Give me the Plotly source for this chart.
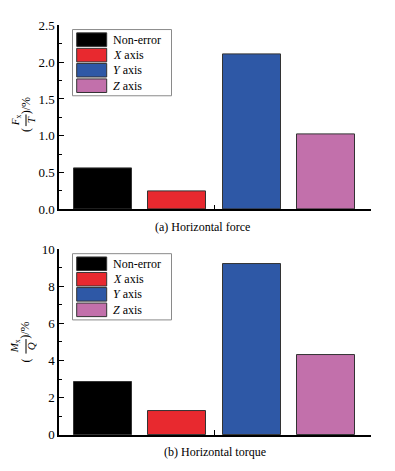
import plotly.graph_objects as go

# ---------------- data ----------------
categories = ["Non-error", "X axis", "Y axis", "Z axis"]
legend_labels = ["Non-error", "<i>X</i> axis", "<i>Y</i> axis", "<i>Z</i> axis"]
force_values = [0.55, 0.25, 2.10, 1.02]
torque_values = [2.83, 1.30, 9.18, 4.31]
bar_colors = ["#000000", "#e8292f", "#2e58a6", "#c270ab"]
caption_a = "(a) Horizontal force"
caption_b = "(b) Horizontal torque"

W, H = 395, 471
FONT = "Liberation Serif, Times New Roman, serif"


def px(x):
    return x / W


def py(y):
    return 1 - y / H


xpos = [1, 2, 3, 4]

fig = go.Figure()
fig.add_trace(go.Bar(x=xpos, y=force_values, width=0.78,
                     marker=dict(color=bar_colors, line=dict(color="#333333", width=1)),
                     xaxis="x", yaxis="y", showlegend=False,
                     hovertext=categories))
fig.add_trace(go.Bar(x=xpos, y=torque_values, width=0.78,
                     marker=dict(color=bar_colors, line=dict(color="#333333", width=1)),
                     xaxis="x2", yaxis="y2", showlegend=False,
                     hovertext=categories))

xr = [0.41, 4.6]
xcommon = dict(range=xr, showline=True, linecolor="black", linewidth=1.5,
               tickvals=[2.5, 4.595], showticklabels=False, ticks="inside",
               ticklen=5, tickcolor="black", showgrid=False, zeroline=False,
               domain=[px(59), px(371)], fixedrange=True)
ycommon = dict(showline=True, linecolor="black", linewidth=1.5, ticks="inside",
               ticklen=5, tickcolor="black", showgrid=False, zeroline=False,
               tickfont=dict(family=FONT, size=13, color="black"),
               fixedrange=True)

fig.update_layout(
    width=W, height=H,
    margin=dict(l=0, r=0, t=0, b=0),
    paper_bgcolor="white", plot_bgcolor="white",
    bargap=0,
    xaxis=dict(**xcommon, anchor="y"),
    yaxis=dict(**ycommon, range=[0, 2.5], dtick=0.5, tickformat=".1f",
               minor=dict(dtick=0.25, ticks="inside", ticklen=3, tickcolor="black"),
               domain=[py(209), py(19)], anchor="x"),
    xaxis2=dict(**xcommon, anchor="y2"),
    yaxis2=dict(**ycommon, range=[0, 10], dtick=2,
                minor=dict(dtick=1, ticks="inside", ticklen=3, tickcolor="black"),
                domain=[py(442), py(250)], anchor="x2"),
)

shapes = []
annotations = []


def add_legend(offset):
    shapes.append(dict(type="rect", xref="paper", yref="paper",
                       x0=px(72.5), x1=px(171.5), y0=py(23.3 + offset), y1=py(91.7 + offset),
                       line=dict(color="#8a8a8a", width=1), fillcolor="white", layer="above"))
    tops = [26.7, 42.7, 58.3, 74.3]
    for i, (lab, col) in enumerate(zip(legend_labels, bar_colors)):
        t = tops[i] + offset
        shapes.append(dict(type="rect", xref="paper", yref="paper",
                           x0=px(76.7), x1=px(106.7), y0=py(t), y1=py(t + 14),
                           line=dict(color="#333333", width=1), fillcolor=col, layer="above"))
        annotations.append(dict(xref="paper", yref="paper", x=px(111), y=py(t + 7),
                                text=lab, showarrow=False, xanchor="left", yanchor="middle",
                                font=dict(family=FONT, size=12, color="black")))


add_legend(0)
add_legend(231.5)


def add_ytitle(num, den, open_y, frac_y0, frac_y1, close_y, num_x, den_x):
    f = dict(family=FONT, size=12, color="black")
    annotations.append(dict(xref="paper", yref="paper", x=px(26), y=py(open_y), text="(",
                            textangle=-90, showarrow=False, xanchor="center", yanchor="middle", font=f))
    annotations.append(dict(xref="paper", yref="paper", x=px(25.5), y=py(close_y), text=")/%",
                            textangle=-90, showarrow=False, xanchor="center", yanchor="middle", font=f))
    mid = (frac_y0 + frac_y1) / 2
    annotations.append(dict(xref="paper", yref="paper", x=px(num_x), y=py(mid), text=num,
                            textangle=-90, showarrow=False, xanchor="center", yanchor="middle",
                            font=dict(family=FONT, size=11, color="black")))
    annotations.append(dict(xref="paper", yref="paper", x=px(den_x), y=py(mid), text=den,
                            textangle=-90, showarrow=False, xanchor="center", yanchor="middle",
                            font=dict(family=FONT, size=11, color="black")))
    shapes.append(dict(type="line", xref="paper", yref="paper",
                       x0=px(26), x1=px(26), y0=py(frac_y0), y1=py(frac_y1),
                       line=dict(color="black", width=1)))


add_ytitle("<i>F</i><sub>x</sub>", "<i>T</i>", 127, 111, 123, 102, 16, 31)
add_ytitle("<i>M</i><sub>x</sub>", "<i>Q</i>", 365, 343, 358, 334, 15, 31)

annotations.append(dict(xref="paper", yref="paper", x=px(203), y=py(227), text=caption_a,
                        showarrow=False, xanchor="center", yanchor="middle",
                        font=dict(family=FONT, size=12, color="black")))
annotations.append(dict(xref="paper", yref="paper", x=px(215), y=py(460), text=caption_b,
                        showarrow=False, xanchor="center", yanchor="middle",
                        font=dict(family=FONT, size=12, color="black")))

fig.update_layout(shapes=shapes, annotations=annotations)
fig.write_html("out.html", config={"displayModeBar": False},
               post_script="document.body.style.margin='0';document.body.style.overflow='hidden';")
